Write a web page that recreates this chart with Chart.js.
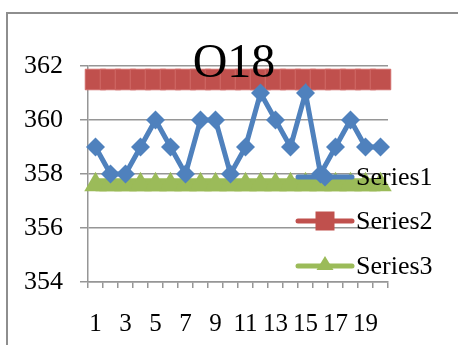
<!DOCTYPE html>
<html>
<head>
<meta charset="utf-8">
<script src="https://cdn.jsdelivr.net/npm/chart.js@4"></script>
<style>
html,body{margin:0;padding:0;background:#fff;}
#wrap{position:relative;width:458px;height:345px;}
canvas{display:block;}
</style>
</head>
<body>
<div id="wrap"><canvas id="c" width="458" height="345"></canvas></div>
<script>
const chartTitle = "O18";
const categories = ["1","2","3","4","5","6","7","8","9","10","11","12","13","14","15","16","17","18","19","20"];
const series1 = [359,358,358,359,360,359,358,360,360,358,359,361,360,359,361,358,359,360,359,359];
const series2 = [361.5,361.5,361.5,361.5,361.5,361.5,361.5,361.5,361.5,361.5,361.5,361.5,361.5,361.5,361.5,361.5,361.5,361.5,361.5,361.5];
const series3 = [357.6,357.6,357.6,357.6,357.6,357.6,357.6,357.6,357.6,357.6,357.6,357.6,357.6,357.6,357.6,357.6,357.6,357.6,357.6,357.6];
const seriesNames = ["Series1","Series2","Series3"];
const yTicks = [354,356,358,360,362];

const BLUE = "#4F81BD", RED = "#C0504D", GREEN = "#9BBB59";
const GRID = "#969696";
const FONT = "'Liberation Serif', 'Times New Roman', serif";

const framePlugin = {
  id: 'frame',
  beforeDraw(chart) {
    const ctx = chart.ctx;
    ctx.save();
    ctx.strokeStyle = '#8e8e8e';
    ctx.lineWidth = 2;
    ctx.beginPath();
    ctx.moveTo(7, 345);
    ctx.lineTo(7, 13);
    ctx.lineTo(458, 13);
    ctx.stroke();
    ctx.restore();
  }
};

function drawMarker(ctx, style, x, y, color) {
  ctx.fillStyle = color;
  ctx.beginPath();
  if (style === 'rectRot') {
    const r = 9.5;
    ctx.moveTo(x, y - r); ctx.lineTo(x + r, y); ctx.lineTo(x, y + r); ctx.lineTo(x - r, y);
  } else if (style === 'rect') {
    const h = 9.5;
    ctx.rect(x - h, y - h, 2 * h, 2 * h);
  } else {
    const r = 10;
    ctx.moveTo(x, y - r); ctx.lineTo(x + r * 0.85, y + r * 0.4); ctx.lineTo(x - r * 0.85, y + r * 0.4);
  }
  ctx.closePath();
  ctx.fill();
}

const overlayPlugin = {
  id: 'overlay',
  afterDraw(chart) {
    const ctx = chart.ctx;
    const a = chart.chartArea;
    ctx.save();
    // title
    ctx.fillStyle = '#000';
    ctx.font = "48px " + FONT;
    ctx.textAlign = 'center';
    ctx.textBaseline = 'alphabetic';
    ctx.fillText(chartTitle, 234, 77);
    // legend in series order
    const rows = [111, 155, 200];
    seriesNames.forEach((name, i) => {
      const ds = chart.data.datasets.find(d => d.label === name);
      const y = a.top + rows[i];
      const x0 = a.right - 90, x1 = a.right - 36;
      ctx.strokeStyle = ds.borderColor;
      ctx.lineWidth = 5;
      ctx.lineCap = 'round';
      ctx.beginPath();
      ctx.moveTo(x0, y); ctx.lineTo(x1, y);
      ctx.stroke();
      drawMarker(ctx, ds.pointStyle, (x0 + x1) / 2, y, ds.borderColor);
      ctx.fillStyle = '#000';
      ctx.font = "26px " + FONT;
      ctx.textAlign = 'left';
      ctx.textBaseline = 'alphabetic';
      ctx.fillText(ds.label, a.right - 32, y + 8);
    });
    ctx.restore();
  }
};

new Chart(document.getElementById('c'), {
  type: 'line',
  data: {
    labels: categories,
    datasets: [
      {
        label: seriesNames[1], data: series2, borderColor: RED, backgroundColor: RED,
        borderWidth: 4, pointStyle: 'rect', pointRadius: 14.5, pointBorderWidth: 1,
        pointBorderColor: '#d06a68', pointBackgroundColor: RED, order: 3
      },
      {
        label: seriesNames[2], data: series3, borderColor: GREEN, backgroundColor: GREEN,
        borderWidth: 13, pointStyle: 'triangle', pointRadius: 13, pointBorderWidth: 0,
        pointBackgroundColor: GREEN, order: 2
      },
      {
        label: seriesNames[0], data: series1, borderColor: BLUE, backgroundColor: BLUE,
        borderWidth: 5, pointStyle: 'rectRot', pointRadius: 9.5, pointBorderWidth: 0,
        pointBackgroundColor: BLUE, order: 1
      }
    ]
  },
  options: {
    responsive: false,
    animation: false,
    devicePixelRatio: 1,
    layout: { padding: { top: 66, right: 70, left: 0, bottom: 0 } },
    plugins: { legend: { display: false }, title: { display: false }, tooltip: { enabled: false } },
    elements: { line: { tension: 0 } },
    scales: {
      x: {
        offset: true,
        grid: { offset: true, drawOnChartArea: false, tickLength: 6, color: GRID, lineWidth: 1.5 },
        border: { color: GRID, width: 1.5 },
        ticks: {
          autoSkip: false, maxRotation: 0, minRotation: 0, padding: 21, color: '#000',
          font: { family: FONT, size: 25 },
          callback: function(v, i) { return (i % 2 === 0) ? this.getLabelForValue(v) : ''; }
        },
        afterFit(s) { s.height = 63; }
      },
      y: {
        min: yTicks[0], max: yTicks[yTicks.length - 1],
        afterBuildTicks(s) { s.ticks = yTicks.map(v => ({ value: v })); },
        grid: { tickLength: 8, color: GRID, lineWidth: 1.5 },
        border: { color: GRID, width: 1.5 },
        ticks: { padding: 17, color: '#000', font: { family: FONT, size: 26 } },
        afterFit(s) { s.width = 88; }
      }
    }
  },
  plugins: [framePlugin, overlayPlugin]
});
</script>
</body>
</html>
